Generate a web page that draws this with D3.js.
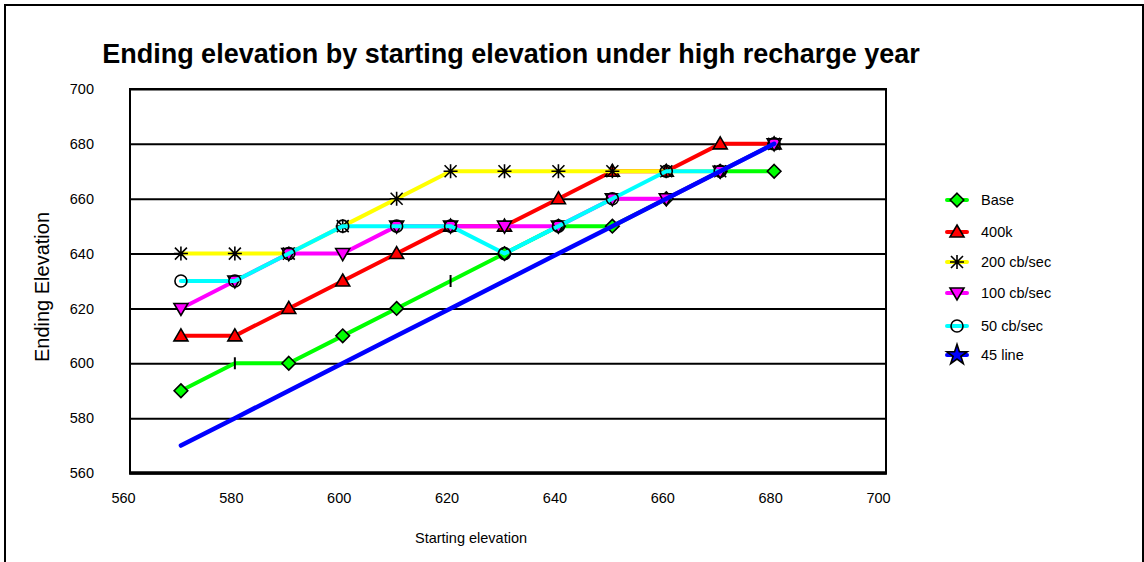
<!DOCTYPE html>
<html>
<head>
<meta charset="utf-8">
<script src="https://cdn.jsdelivr.net/npm/d3@7"></script>
<style>
  html, body { margin: 0; padding: 0; background: #fff; }
  svg { display: block; font-family: "Liberation Sans", Arial, sans-serif; }
</style>
</head>
<body>
<svg id="chart" width="1144" height="562"></svg>
<script>
// Starting elevations (x) and ending elevations for each scenario
const startElev = [570, 580, 590, 600, 610, 620, 630, 640, 650, 660, 670, 680];
const base      = [590, 600, 600, 610, 620, 630, 640, 650, 650, 660, 670, 670];
const k400      = [610, 610, 620, 630, 640, 650, 650, 660, 670, 670, 680, 680];
const cb200     = [640, 640, 640, 650, 660, 670, 670, 670, 670, 670, 670, 680];
const cb100     = [620, 630, 640, 640, 650, 650, 650, 650, 660, 660, 670, 680];
const cb50      = [630, 630, 640, 650, 650, 650, 640, 650, 660, 670, 670, 680];
const line45    = [570, 580, 590, 600, 610, 620, 630, 640, 650, 660, 670, 680];

const seriesNames = ["Base", "400k", "200 cb/sec", "100 cb/sec", "50 cb/sec", "45 line"];
const xTicks = [560, 580, 600, 620, 640, 660, 680, 700];
const yTicks = [560, 580, 600, 620, 640, 660, 680, 700];

const titleText = "Ending elevation by starting elevation under high recharge year";
const xTitle = "Starting elevation";
const yTitle = "Ending Elevation";

// Drawing styles per series
const styles = [
  { color: "#00ff00", marker: "diamond" },
  { color: "#ff0000", marker: "triangle" },
  { color: "#ffff00", marker: "asterisk" },
  { color: "#ff00ff", marker: "triangleDown" },
  { color: "#00ffff", marker: "circle" },
  { color: "#0000ff", marker: "none", legendMarker: "star" }
];
const seriesValues = [base, k400, cb200, cb100, cb50, line45];
// Base points drawn with a short dash instead of a diamond
const baseDashAt = new Set([580, 620]);

const svg = d3.select("#chart");
const plot = { left: 130, right: 886, top: 89, bottom: 473 };

const x = d3.scaleLinear().domain([560, 700]).range([127, 882]);
const y = d3.scaleLinear().domain([560, 700]).range([plot.bottom, plot.top]);

// Outer chart border
svg.append("rect")
  .attr("x", 5).attr("y", 5).attr("width", 1138).attr("height", 620)
  .attr("fill", "#fff").attr("stroke", "#000").attr("stroke-width", 2);

// Title
svg.append("text")
  .attr("x", 511).attr("y", 63)
  .attr("text-anchor", "middle")
  .attr("font-size", 27).attr("font-weight", "bold")
  .text(titleText);

// Y axis with full-width gridlines
const yAxis = svg.append("g")
  .attr("transform", `translate(${plot.left},0)`)
  .call(d3.axisLeft(y).tickValues(yTicks).tickSize(-(plot.right - plot.left)).tickPadding(36).tickFormat(d3.format("d")));
yAxis.select(".domain").remove();
yAxis.selectAll(".tick line").attr("stroke", "#000").attr("stroke-width", 2);
yAxis.selectAll(".tick text").attr("font-size", 14.5).attr("fill", "#000")
  .attr("font-family", "'Liberation Sans', Arial, sans-serif");

// X axis labels
const xAxis = svg.append("g")
  .attr("transform", `translate(0,${plot.bottom})`)
  .call(d3.axisBottom(x).tickValues(xTicks).tickSize(0).tickPadding(20).tickFormat(d3.format("d")));
xAxis.select(".domain").remove();
xAxis.selectAll(".tick text").attr("font-size", 14.5).attr("fill", "#000").attr("dx", -4)
  .attr("font-family", "'Liberation Sans', Arial, sans-serif");

// Plot area frame and heavier baseline
svg.append("rect")
  .attr("x", plot.left).attr("y", plot.top)
  .attr("width", plot.right - plot.left).attr("height", plot.bottom - plot.top)
  .attr("fill", "none").attr("stroke", "#000").attr("stroke-width", 2);
svg.append("line")
  .attr("x1", plot.left - 1).attr("x2", plot.right + 1)
  .attr("y1", plot.bottom).attr("y2", plot.bottom)
  .attr("stroke", "#000").attr("stroke-width", 3.5);

// Axis titles
svg.append("text")
  .attr("x", 471).attr("y", 543)
  .attr("text-anchor", "middle").attr("font-size", 14.5)
  .text(xTitle);
svg.append("text")
  .attr("transform", "translate(49,287) rotate(-90)")
  .attr("text-anchor", "middle").attr("font-size", 20)
  .text(yTitle);

// Marker drawing
function drawMarker(g, type, cx, cy, fill) {
  const sw = 1.6;
  if (type === "diamond") {
    const r = 6.8;
    g.append("path").attr("d", `M${cx},${cy - r}L${cx + r},${cy}L${cx},${cy + r}L${cx - r},${cy}Z`)
      .attr("fill", fill).attr("stroke", "#000").attr("stroke-width", sw);
  } else if (type === "triangle") {
    g.append("path").attr("d", `M${cx},${cy - 7}L${cx + 7},${cy + 5}L${cx - 7},${cy + 5}Z`)
      .attr("fill", fill).attr("stroke", "#000").attr("stroke-width", sw);
  } else if (type === "triangleDown") {
    g.append("path").attr("d", `M${cx - 7},${cy - 5}L${cx + 7},${cy - 5}L${cx},${cy + 7}Z`)
      .attr("fill", fill).attr("stroke", "#000").attr("stroke-width", sw);
  } else if (type === "circle") {
    g.append("circle").attr("cx", cx).attr("cy", cy).attr("r", 6)
      .attr("fill", "none").attr("stroke", "#000").attr("stroke-width", sw);
  } else if (type === "asterisk") {
    const r = 7, d = 6;
    g.append("path")
      .attr("d", `M${cx - d},${cy - d}L${cx + d},${cy + d}M${cx - d},${cy + d}L${cx + d},${cy - d}` +
                 `M${cx},${cy - r}L${cx},${cy + r}M${cx - r},${cy}L${cx + r},${cy}`)
      .attr("fill", "none").attr("stroke", "#000").attr("stroke-width", sw);
  } else if (type === "star") {
    g.append("path").attr("d", d3.symbol(d3.symbolStar, 130)())
      .attr("transform", `translate(${cx},${cy})`)
      .attr("fill", fill).attr("stroke", "#000").attr("stroke-width", sw);
  } else if (type === "dash") {
    g.append("line").attr("x1", cx).attr("x2", cx).attr("y1", cy - 6).attr("y2", cy + 6)
      .attr("stroke", "#000").attr("stroke-width", 2);
  }
}

// Series lines and markers, drawn in order
const lineGen = d3.line().x(d => x(d[0])).y(d => y(d[1]));
seriesValues.forEach((vals, i) => {
  const st = styles[i];
  const pts = startElev.map((s, j) => [s, vals[j]]);
  const g = svg.append("g");
  g.append("path").datum(pts).attr("d", lineGen)
    .attr("fill", "none").attr("stroke", st.color)
    .attr("stroke-width", i === 5 ? 4.5 : 4)
    .attr("stroke-linejoin", "round").attr("stroke-linecap", "round");
  if (st.marker !== "none") {
    pts.forEach(p => {
      const type = (i === 0 && baseDashAt.has(p[0])) ? "dash" : st.marker;
      drawMarker(g, type, x(p[0]), y(p[1]), st.color);
    });
  }
});

// Legend
const legendY = [200, 232, 262, 293, 326, 355];
seriesNames.forEach((name, i) => {
  const st = styles[i];
  const g = svg.append("g");
  const cy = legendY[i];
  g.append("line").attr("x1", 947).attr("x2", 967).attr("y1", cy).attr("y2", cy)
    .attr("stroke", st.color).attr("stroke-width", 4).attr("stroke-linecap", "round");
  drawMarker(g, st.legendMarker || st.marker, 957, cy, st.color);
  g.append("text").attr("x", 981).attr("y", cy).attr("dy", "0.35em")
    .attr("font-size", 14.5).text(name);
});
</script>
</body>
</html>
